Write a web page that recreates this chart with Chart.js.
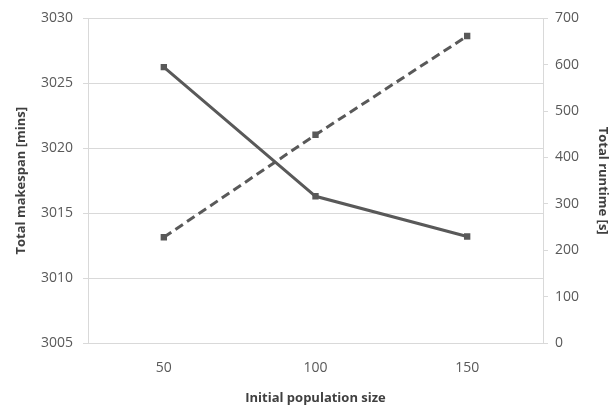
<!DOCTYPE html>
<html>
<head>
<meta charset="utf-8">
<script src="https://cdn.jsdelivr.net/npm/chart.js@4.4.1/dist/chart.umd.min.js"></script>
<style>
  html, body { margin: 0; padding: 0; background: #ffffff; }
  #wrap { width: 616px; height: 407px; position: relative; }
</style>
</head>
<body>
<div id="wrap"><canvas id="chart"></canvas></div>
<script>
// Initial population size (category axis)
const populationSizes = ['50', '100', '150'];
// Total makespan in minutes (left axis)
const makespanMins = [3026.25, 3016.3, 3013.2];
// Total runtime in seconds (right axis)
const runtimeSecs = [228, 449, 662];

const ink = '#595959';
const gridGrey = '#d9d9d9';
const fontFamily = '"Open Sans", "Noto Sans", sans-serif';
const plainNumber = (v) => String(v);

new Chart(document.getElementById('chart'), {
  type: 'line',
  data: {
    labels: populationSizes,
    datasets: [
      {
        label: 'Total makespan [mins]',
        data: makespanMins,
        yAxisID: 'y',
        borderColor: ink,
        backgroundColor: ink,
        borderWidth: 3,
        pointStyle: 'rect',
        pointRadius: 4.5,
        pointBorderWidth: 0,
        tension: 0
      },
      {
        label: 'Total runtime [s]',
        data: runtimeSecs,
        yAxisID: 'y1',
        borderColor: ink,
        backgroundColor: ink,
        borderWidth: 3,
        borderDash: [9, 5],
        pointStyle: 'rect',
        pointRadius: 4.5,
        pointBorderWidth: 0,
        tension: 0
      }
    ]
  },
  options: {
    responsive: true,
    maintainAspectRatio: false,
    animation: false,
    layout: { padding: { top: 18, right: 0, bottom: 0, left: 0 } },
    plugins: {
      legend: { display: false },
      tooltip: { enabled: false }
    },
    scales: {
      x: {
        type: 'category',
        offset: true,
        grid: { display: false },
        border: { display: false },
        ticks: {
          color: ink,
          padding: 9,
          font: { family: fontFamily, size: 14 }
        },
        title: {
          display: true,
          text: 'Initial population size',
          color: '#404040',
          padding: { top: 0, bottom: 1 },
          font: { family: fontFamily, size: 13, weight: 'bold' }
        },
        afterFit: (s) => { s.height = 64; }
      },
      y: {
        position: 'left',
        min: 3005,
        max: 3030,
        ticks: {
          stepSize: 5,
          color: ink,
          padding: 10,
          callback: plainNumber,
          font: { family: fontFamily, size: 14 }
        },
        grid: { color: gridGrey, lineWidth: 1, tickLength: 5, drawTicks: true },
        border: { display: true, color: gridGrey },
        title: {
          display: true,
          text: 'Total makespan [mins]',
          color: '#404040',
          padding: { top: 13, bottom: 0 },
          font: { family: fontFamily, size: 13, weight: 'bold' }
        },
        afterFit: (s) => { s.width = 88; }
      },
      y1: {
        position: 'right',
        min: 0,
        max: 700,
        ticks: {
          stepSize: 100,
          color: ink,
          padding: 7,
          callback: plainNumber,
          font: { family: fontFamily, size: 14 }
        },
        grid: { drawOnChartArea: false, color: gridGrey, tickLength: 5, drawTicks: true },
        border: { display: true, color: gridGrey },
        title: {
          display: true,
          text: 'Total runtime [s]',
          color: '#404040',
          padding: { top: 5, bottom: 0 },
          font: { family: fontFamily, size: 13, weight: 'bold' }
        },
        afterFit: (s) => { s.width = 73; }
      }
    }
  }
});
</script>
</body>
</html>
